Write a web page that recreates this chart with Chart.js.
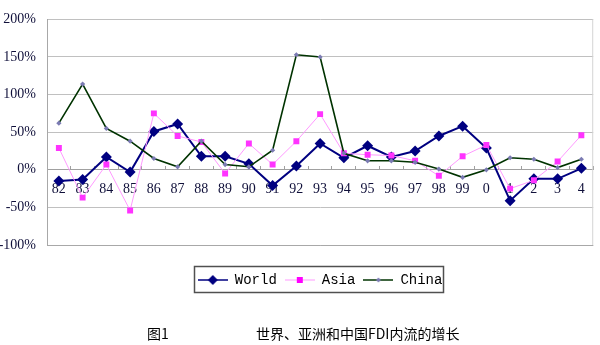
<!DOCTYPE html>
<html>
<head>
<meta charset="utf-8">
<script src="https://cdn.jsdelivr.net/npm/chart.js@4/dist/chart.umd.min.js"></script>
<style>
  body { margin: 0; background: #fff; }
  #wrap { position: relative; width: 600px; height: 345px; }
  #chart { position: absolute; left: 0; top: 0; }
  .cap { position: absolute; top: 324px; font: 14px "Noto Sans CJK SC", sans-serif; color: #000; line-height: 18px; white-space: nowrap; }
</style>
</head>
<body>
<div id="wrap">
  <canvas id="chart" width="600" height="345"></canvas>
  <span class="cap" style="left:147px">图1</span>
  <span class="cap" style="left:256px">世界、亚洲和中国FDI内流的增长</span>
</div>
<script>
// growth of FDI inflows, % per year (82 .. 04)
const years = ['82','83','84','85','86','87','88','89','90','91','92','93','94','95','96','97','98','99','0','1','2','3','4'];
const world = [-15, -13, 17, -3, 51, 61, 18, 18, 8, -21, 5, 35, 16, 32, 17, 25, 45, 58, 29, -41, -12, -12, 2];
const asia  = [29, -37, 7, -54, 75, 45, 37, -5, 35, 7, 38, 74, 22, 20, 19, 12, -8, 18, 33, -25, -14, 11, 46];
const china = [62, 114, 55, 38, 15, 4, 38, 7, 4, 26, 153, 150, 22, 12, 12, 10, 1, -10, 0, 16, 14, 3, 14];
const yTicks = [-100, -50, 0, 50, 100, 150, 200];

const tickFont = { family: '"Liberation Serif", serif', size: 14 };
const tickColor = '#10103a';

// little line+marker samples for the legend
function legendIcon(lineColor, lineWidth, marker, markerColor, r) {
  const c = document.createElement('canvas');
  c.width = 30; c.height = 12;
  const g = c.getContext('2d');
  g.strokeStyle = lineColor; g.lineWidth = lineWidth;
  g.beginPath(); g.moveTo(0, 6); g.lineTo(30, 6); g.stroke();
  g.fillStyle = markerColor;
  g.beginPath();
  if (marker === 'diamond') {
    g.moveTo(15 - r, 6); g.lineTo(15, 6 - r); g.lineTo(15 + r, 6); g.lineTo(15, 6 + r);
  } else {
    g.rect(15 - r, 6 - r, 2 * r, 2 * r);
  }
  g.closePath(); g.fill();
  return c;
}
const icons = [
  legendIcon('#000080', 1.5, 'diamond', '#000080', 5),
  legendIcon('#ff99ff', 1, 'square', '#ff00ff', 3),
  legendIcon('#003300', 1.5, 'diamond', '#7b7bb3', 2.5)
];

const frame = {
  id: 'frame',
  beforeDatasetsDraw(chart) {
    const a = chart.chartArea, ctx = chart.ctx;
    ctx.save();
    ctx.strokeStyle = '#a8a8a8'; ctx.lineWidth = 1;
    ctx.beginPath();
    ctx.moveTo(a.left + 0.5, a.top); ctx.lineTo(a.left + 0.5, a.bottom + 0.5); ctx.lineTo(a.right, a.bottom + 0.5);
    ctx.stroke();
    ctx.strokeStyle = '#d4d4d4';
    ctx.beginPath(); ctx.moveTo(a.right - 0.5, a.top); ctx.lineTo(a.right - 0.5, a.bottom); ctx.stroke();
    ctx.restore();
  },
  afterDraw(chart) {
    const hb = chart.legend && chart.legend.legendHitBoxes;
    if (!hb || !hb.length) return;
    const l = Math.min(...hb.map(b => b.left)), r = Math.max(...hb.map(b => b.left + b.width));
    const t = Math.min(...hb.map(b => b.top)), btm = Math.max(...hb.map(b => b.top + b.height));
    const ctx = chart.ctx;
    ctx.save();
    ctx.strokeStyle = '#505050'; ctx.lineWidth = 1.5;
    ctx.strokeRect(Math.round(l) - 3.5, Math.round(t) - 6.5, Math.round(r - l) + 4, Math.round(btm - t) + 12);
    ctx.restore();
  }
};

new Chart(document.getElementById('chart'), {
  type: 'line',
  data: {
    labels: years,
    datasets: [
      { label: 'World', data: world, order: 3, borderColor: '#000080', borderWidth: 2, backgroundColor: '#000080',
        pointStyle: 'rectRot', pointRadius: 5.5, pointBorderWidth: 0, tension: 0 },
      { label: 'Asia', data: asia, order: 2, borderColor: '#ff99ff', borderWidth: 1, backgroundColor: '#ff33ff',
        pointStyle: 'rect', pointRadius: 4.2, pointBorderWidth: 0, tension: 0 },
      { label: 'China', data: china, order: 1, borderColor: '#003300', borderWidth: 1.6, backgroundColor: '#7b7bb3',
        pointStyle: 'rectRot', pointRadius: 2.6, pointBorderWidth: 0, tension: 0 }
    ]
  },
  options: {
    responsive: false,
    animation: false,
    layout: { padding: { top: 18, right: 6, bottom: 48, left: 0 } },
    scales: {
      x: {
        position: { y: 0 },
        offset: true,
        grid: { display: true, drawOnChartArea: false, drawTicks: true, tickLength: -4, offset: true, color: '#a0a0a0' },
        border: { display: true, color: '#a0a0a0' },
        ticks: { font: tickFont, color: tickColor, padding: 15, autoSkip: false, maxRotation: 0 }
      },
      y: {
        min: -100, max: 200,
        afterBuildTicks: s => { s.ticks = yTicks.map(v => ({ value: v })); },
        afterFit: s => { s.width = 47; },
        grid: { color: '#c0c0c0', drawTicks: false },
        border: { display: true, color: '#a0a0a0' },
        ticks: { font: tickFont, color: tickColor, padding: 11, callback: v => v + '%' }
      }
    },
    plugins: {
      tooltip: { enabled: false },
      legend: {
        position: 'bottom',
        fullSize: false,
        title: { display: true, text: ' ', padding: { top: 6, bottom: 0 }, font: { size: 14, lineHeight: 1 } },
        labels: {
          usePointStyle: true, pointStyleWidth: 30, padding: 8,
          font: { family: '"Liberation Mono", monospace', size: 14 }, color: '#000',
          generateLabels(chart) {
            const items = Chart.defaults.plugins.legend.labels.generateLabels(chart);
            items.sort((a, b) => a.datasetIndex - b.datasetIndex);
            items.forEach(it => { it.pointStyle = icons[it.datasetIndex]; });
            return items;
          }
        }
      }
    }
  },
  plugins: [frame]
});
</script>
</body>
</html>
